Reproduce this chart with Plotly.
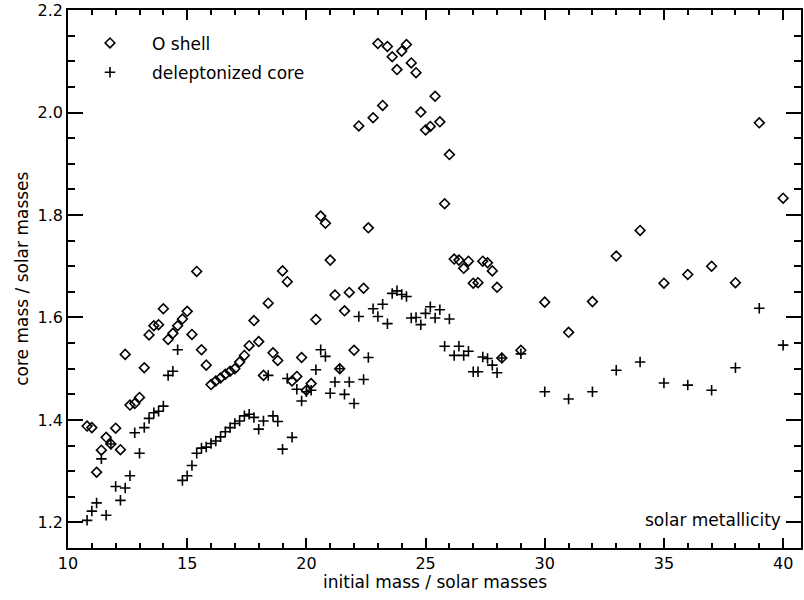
import plotly.graph_objects as go

# initial masses (solar masses)
mass = [10.8, 11.0, 11.2, 11.4, 11.6, 11.8, 12.0, 12.2, 12.4, 12.6, 12.8, 13.0, 13.2, 13.4,
        13.6, 13.8, 14.0, 14.2, 14.4, 14.6, 14.8, 15.0, 15.2, 15.4, 15.6, 15.8, 16.0, 16.2,
        16.4, 16.6, 16.8, 17.0, 17.2, 17.4, 17.6, 17.8, 18.0, 18.2, 18.4, 18.6, 18.8, 19.0,
        19.2, 19.4, 19.6, 19.8, 20.0, 20.2, 20.4, 20.6, 20.8, 21.0, 21.2, 21.4, 21.6, 21.8,
        22.0, 22.2, 22.4, 22.6, 22.8, 23.0, 23.2, 23.4, 23.6, 23.8, 24.0, 24.2, 24.4, 24.6,
        24.8, 25.0, 25.2, 25.4, 25.6, 25.8, 26.0, 26.2, 26.4, 26.6, 26.8, 27.0, 27.2, 27.4,
        27.6, 27.8, 28.0, 28.2, 29, 30, 31, 32, 33, 34, 35, 36, 37, 38, 39, 40]

# O shell core mass (solar masses)
o_shell = [1.388, 1.385, 1.298, 1.341, 1.366, 1.353, 1.384, 1.342, 1.528, 1.429, 1.432, 1.444,
           1.502, 1.566, 1.584, 1.586, 1.617, 1.557, 1.569, 1.584, 1.597, 1.612, 1.567, 1.690,
           1.537, 1.507, 1.469, 1.476, 1.482, 1.489, 1.495, 1.500, 1.513, 1.526, 1.545, 1.594,
           1.553, 1.487, 1.628, 1.531, 1.516, 1.691, 1.670, 1.476, 1.485, 1.522, 1.458, 1.471,
           1.596, 1.798, 1.784, 1.712, 1.644, 1.500, 1.613, 1.649, 1.536, 1.974, 1.657, 1.775,
           1.990, 2.135, 2.014, 2.129, 2.109, 2.084, 2.120, 2.133, 2.097, 2.078, 2.001, 1.966,
           1.973, 2.032, 1.982, 1.822, 1.918, 1.714, 1.712, 1.696, 1.710, 1.667, 1.668, 1.710,
           1.707, 1.691, 1.659, 1.521, 1.536, 1.630, 1.571, 1.631, 1.720, 1.770, 1.667, 1.684,
           1.700, 1.668, 1.980, 1.833]

# deleptonized core mass (solar masses)
delept = [1.204, 1.222, 1.238, 1.324, 1.214, 1.353, 1.270, 1.243, 1.267, 1.291, 1.375, 1.335,
          1.385, 1.403, 1.414, 1.417, 1.427, 1.487, 1.495, 1.537, 1.282, 1.291, 1.311, 1.335,
          1.345, 1.347, 1.354, 1.359, 1.367, 1.377, 1.385, 1.393, 1.398, 1.408, 1.411, 1.405,
          1.382, 1.398, 1.487, 1.408, 1.397, 1.343, 1.481, 1.366, 1.460, 1.437, 1.455, 1.458,
          1.498, 1.537, 1.524, 1.452, 1.474, 1.500, 1.450, 1.474, 1.432, 1.602, 1.479, 1.522,
          1.617, 1.602, 1.626, 1.588, 1.647, 1.652, 1.645, 1.641, 1.599, 1.600, 1.586, 1.608,
          1.621, 1.599, 1.615, 1.544, 1.597, 1.526, 1.544, 1.526, 1.534, 1.494, 1.494, 1.523,
          1.520, 1.507, 1.492, 1.521, 1.529, 1.455, 1.441, 1.455, 1.497, 1.513, 1.472, 1.468,
          1.458, 1.502, 1.618, 1.546]

x_ticks = [10, 15, 20, 25, 30, 35, 40]
y_ticks = [1.2, 1.4, 1.6, 1.8, 2.0, 2.2]

FONT = "DejaVu Sans"

fig = go.Figure()
fig.add_trace(go.Scatter(
    x=mass, y=o_shell, mode="markers", name="O shell", legend="legend",
    marker=dict(symbol="diamond-open", size=7.5, color="black", line=dict(width=1.6, color="black")),
))
fig.add_trace(go.Scatter(
    x=mass, y=delept, mode="markers", name="deleptonized core", legend="legend2",
    marker=dict(symbol="cross-thin-open", size=7.5, color="black", line=dict(width=1.6, color="black")),
))

axis_common = dict(
    showline=True, linecolor="black", linewidth=1.5, mirror="ticks",
    ticks="inside", tickcolor="black", tickwidth=1.5,
    showgrid=False, zeroline=False, ticklabeloverflow="allow",
    tickfont=dict(family=FONT, size=16, color="black"),
)

fig.update_xaxes(
    range=[10, 40.75], tickvals=x_ticks, ticktext=[str(v) for v in x_ticks], ticklen=10,
    minor=dict(ticks="inside", ticklen=5, dtick=1, tick0=10, tickcolor="black", tickwidth=1.5, showgrid=False),
    **axis_common,
)
fig.update_yaxes(
    range=[1.15, 2.2003], tickvals=y_ticks, ticktext=[f"{v:.1f}" for v in y_ticks], ticklen=15,
    minor=dict(ticks="inside", ticklen=7.5, dtick=0.05, tick0=1.15, tickcolor="black", tickwidth=1.5, showgrid=False),
    **axis_common,
)

leg_common = dict(x=0.0, xanchor="left", yanchor="middle", itemwidth=74,
                  font=dict(family=FONT, size=17, color="black"),
                  bgcolor="rgba(0,0,0,0)", borderwidth=0)

fig.update_layout(
    width=804, height=600,
    margin=dict(l=68, r=1, t=7, b=52),
    paper_bgcolor="white", plot_bgcolor="white",
    showlegend=True,
    legend=dict(y=0.938, **leg_common),
    legend2=dict(y=0.8835, **leg_common),
    annotations=[
        dict(text="solar metallicity", x=40.0, y=1.205, xref="x", yref="y",
             xanchor="right", yanchor="middle", showarrow=False,
             font=dict(family=FONT, size=17, color="black")),
        dict(text="initial mass / solar masses", x=0.5, y=-0.063, xref="paper", yref="paper",
             xanchor="center", yanchor="middle", showarrow=False,
             font=dict(family=FONT, size=17, color="black")),
        dict(text="core mass / solar masses", x=-0.063, y=0.5, xref="paper", yref="paper",
             xanchor="center", yanchor="middle", showarrow=False, textangle=-90,
             font=dict(family=FONT, size=17, color="black")),
    ],
)

fig.write_html("out.html")
